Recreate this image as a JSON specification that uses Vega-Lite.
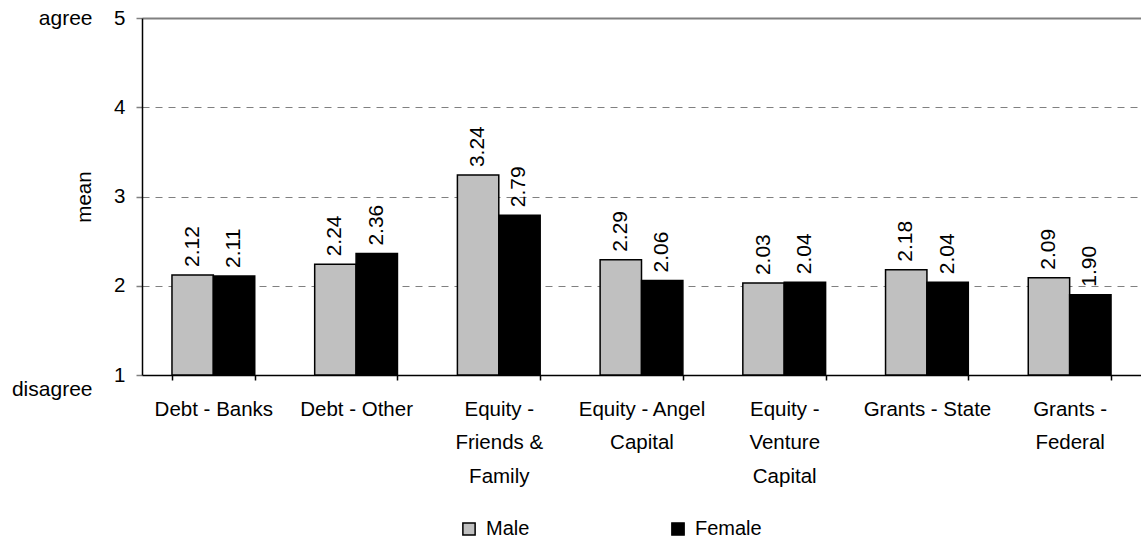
{
  "$schema": "https://vega.github.io/schema/vega-lite/v6.json",
  "width": 999,
  "height": 357,
  "padding": {"left": 11, "top": 7, "right": 0, "bottom": 0},
  "autosize": {"type": "pad"},
  "config": {
    "font": "Liberation Sans",
    "view": {"stroke": null},
    "axis": {"labelFont": "Liberation Sans", "labelColor": "black", "titleFont": "Liberation Sans", "titleColor": "black"}
  },
  "data": {
    "values": [
      {"cat": "Debt - Banks", "sex": "Male", "mean": 2.12},
      {"cat": "Debt - Banks", "sex": "Female", "mean": 2.11},
      {"cat": "Debt - Other", "sex": "Male", "mean": 2.24},
      {"cat": "Debt - Other", "sex": "Female", "mean": 2.36},
      {"cat": "Equity - Friends & Family", "sex": "Male", "mean": 3.24},
      {"cat": "Equity - Friends & Family", "sex": "Female", "mean": 2.79},
      {"cat": "Equity - Angel Capital", "sex": "Male", "mean": 2.29},
      {"cat": "Equity - Angel Capital", "sex": "Female", "mean": 2.06},
      {"cat": "Equity - Venture Capital", "sex": "Male", "mean": 2.03},
      {"cat": "Equity - Venture Capital", "sex": "Female", "mean": 2.04},
      {"cat": "Grants - State", "sex": "Male", "mean": 2.18},
      {"cat": "Grants - State", "sex": "Female", "mean": 2.04},
      {"cat": "Grants - Federal", "sex": "Male", "mean": 2.09},
      {"cat": "Grants - Federal", "sex": "Female", "mean": 1.90}
    ]
  },
  "encoding": {
    "x": {
      "field": "cat",
      "type": "nominal",
      "sort": null,
      "scale": {"paddingInner": 0.42, "paddingOuter": 0.21},
      "axis": {
        "title": null,
        "labelAngle": 0,
        "labelFontSize": 20.5,
        "labelLineHeight": 33.5,
        "labelPadding": 19,
        "labelBaseline": "top",
        "labelLimit": 0,
        "tickBand": "extent",
        "tickSize": 5,
        "tickColor": "black",
        "tickWidth": 1.5,
        "domainColor": "black",
        "domainWidth": 1.5,
        "labelExpr": "datum.value == 'Equity - Friends & Family' ? ['Equity -', 'Friends &', 'Family'] : datum.value == 'Equity - Angel Capital' ? ['Equity - Angel', 'Capital'] : datum.value == 'Equity - Venture Capital' ? ['Equity -', 'Venture', 'Capital'] : datum.value == 'Grants - Federal' ? ['Grants -', 'Federal'] : datum.label"
      }
    },
    "xOffset": {"field": "sex", "type": "nominal", "sort": ["Male", "Female"], "scale": {"paddingInner": 0, "paddingOuter": 0}}
  },
  "layer": [
    {
      "mark": {"type": "bar", "stroke": "black", "strokeWidth": 1.5},
      "encoding": {
        "y": {
          "field": "mean",
          "type": "quantitative",
          "scale": {"domain": [1, 5], "nice": false, "zero": false},
          "axis": {
            "orient": "left",
            "values": [1, 2, 3, 4, 5],
            "format": "d",
            "title": "mean",
            "titleFontSize": 20.5,
            "titleFontWeight": "normal",
            "titlePadding": 19,
            "labelFontSize": 20.5,
            "labelPadding": 11,
            "tickSize": 6,
            "tickColor": "#808080",
            "tickWidth": 1.5,
            "domainColor": "black",
            "domainWidth": 1.5,
            "grid": true,
            "gridColor": "#808080",
            "gridDash": {"condition": {"test": "datum.value === 5", "value": [1, 0]}, "value": [7, 6]},
            "gridWidth": {"condition": {"test": "datum.value === 5", "value": 2}, "value": 1}
          }
        },
        "y2": {"datum": 1},
        "fill": {
          "field": "sex",
          "type": "nominal",
          "sort": ["Male", "Female"],
          "scale": {"domain": ["Male", "Female"], "range": ["#C0C0C0", "#000000"]},
          "legend": {
            "title": null,
            "orient": "none",
            "direction": "horizontal",
            "legendX": 317,
            "legendY": 501,
            "symbolType": "square",
            "symbolSize": 150,
            "symbolStrokeColor": "black",
            "symbolStrokeWidth": 1.5,
            "labelFontSize": 20,
            "labelFont": "Liberation Sans",
            "labelColor": "black",
            "labelOffset": 7,
            "columnPadding": 138,
            "padding": 0
          }
        }
      }
    },
    {
      "mark": {"type": "text", "angle": 270, "align": "left", "baseline": "middle", "dx": 8, "fontSize": 21, "font": "Liberation Sans", "color": "black"},
      "encoding": {
        "y": {
          "field": "mean",
          "type": "quantitative",
          "scale": {"domain": [1, 5], "nice": false, "zero": false},
          "axis": {
            "orient": "left",
            "values": [1, 5],
            "title": null,
            "domain": false,
            "ticks": false,
            "grid": false,
            "labelFontSize": 21,
            "labelPadding": 50,
            "labelOffset": {"condition": {"test": "datum.value === 1", "value": 14}, "value": 0},
            "labelExpr": "datum.value === 5 ? 'agree' : 'disagree'"
          }
        },
        "text": {"field": "mean", "type": "quantitative", "format": ".2f"}
      }
    }
  ],
  "resolve": {"scale": {"y": "independent"}}
}
